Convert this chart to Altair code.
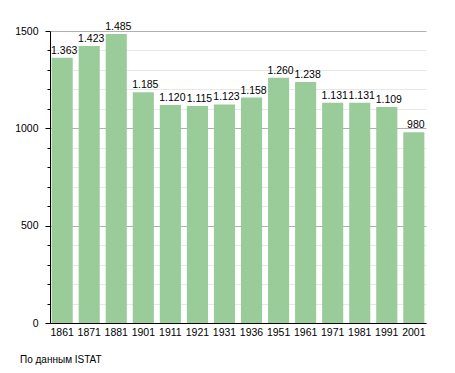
import altair as alt
import pandas as pd

years = ["1861", "1871", "1881", "1901", "1911", "1921", "1931", "1936",
         "1951", "1961", "1971", "1981", "1991", "2001"]
population = [1363, 1423, 1485, 1185, 1120, 1115, 1123, 1158,
              1260, 1238, 1131, 1131, 1109, 980]
labels = ["1.363", "1.423", "1.485", "1.185", "1.120", "1.115", "1.123", "1.158",
          "1.260", "1.238", "1.131", "1.131", "1.109", "980"]
y_ticks = list(range(0, 1501, 100))
source_note = "По данным  ISTAT"

df = pd.DataFrame({"year": years, "pop": population, "label": labels})
FONT = "Liberation Sans"

yscale = alt.Scale(domain=[0, 1500], nice=False)
yaxis = alt.Axis(
    title=None, values=y_ticks, format="d",
    labelExpr="datum.value % 500 === 0 ? datum.label : ''",
    tickSize={"condition": {"test": "datum.value % 500 === 0", "value": 5}, "value": 3},
    tickColor="black", domainColor="black",
    grid=True,
    gridColor={"condition": {"test": "datum.value % 500 === 0", "value": "#b0b0b0"}, "value": "#e8e8e8"},
    labelFont=FONT, labelFontSize=10.5, labelColor="black", labelPadding=7,
)
xaxis = alt.Axis(title=None, labelAngle=0, ticks=False, domainColor="black", grid=False,
                 labelFont=FONT, labelFontSize=10.5, labelColor="black", labelPadding=4)
xscale = alt.Scale(paddingInner=0.22, paddingOuter=0.06)

bars = alt.Chart(df).mark_bar(color="#99cc99").encode(
    x=alt.X("year:N", sort=years, scale=xscale, axis=xaxis),
    y=alt.Y("pop:Q", scale=yscale, axis=yaxis))

text = alt.Chart(df).mark_text(baseline="bottom", dy=-2, dx=2, font=FONT, fontSize=10.5, color="black").encode(
    x=alt.X("year:N", sort=years, scale=xscale, axis=xaxis),
    y=alt.Y("pop:Q", scale=yscale, axis=yaxis), text="label:N")

note = alt.Chart(pd.DataFrame({"t": [source_note]})).mark_text(
    align="left", baseline="middle", font=FONT, fontSize=10, color="black").encode(
    x=alt.value(-30), y=alt.value(329), text="t:N")

chart = alt.layer(bars, text, note).properties(
    width=376, height=292,
    autosize=alt.AutoSizeParams(type="none"),
    padding={"left": 42, "top": 23, "right": 21, "bottom": 50},
).configure_view(stroke=None)

chart.save("out.html", embed_options={"renderer": "svg", "actions": False})
